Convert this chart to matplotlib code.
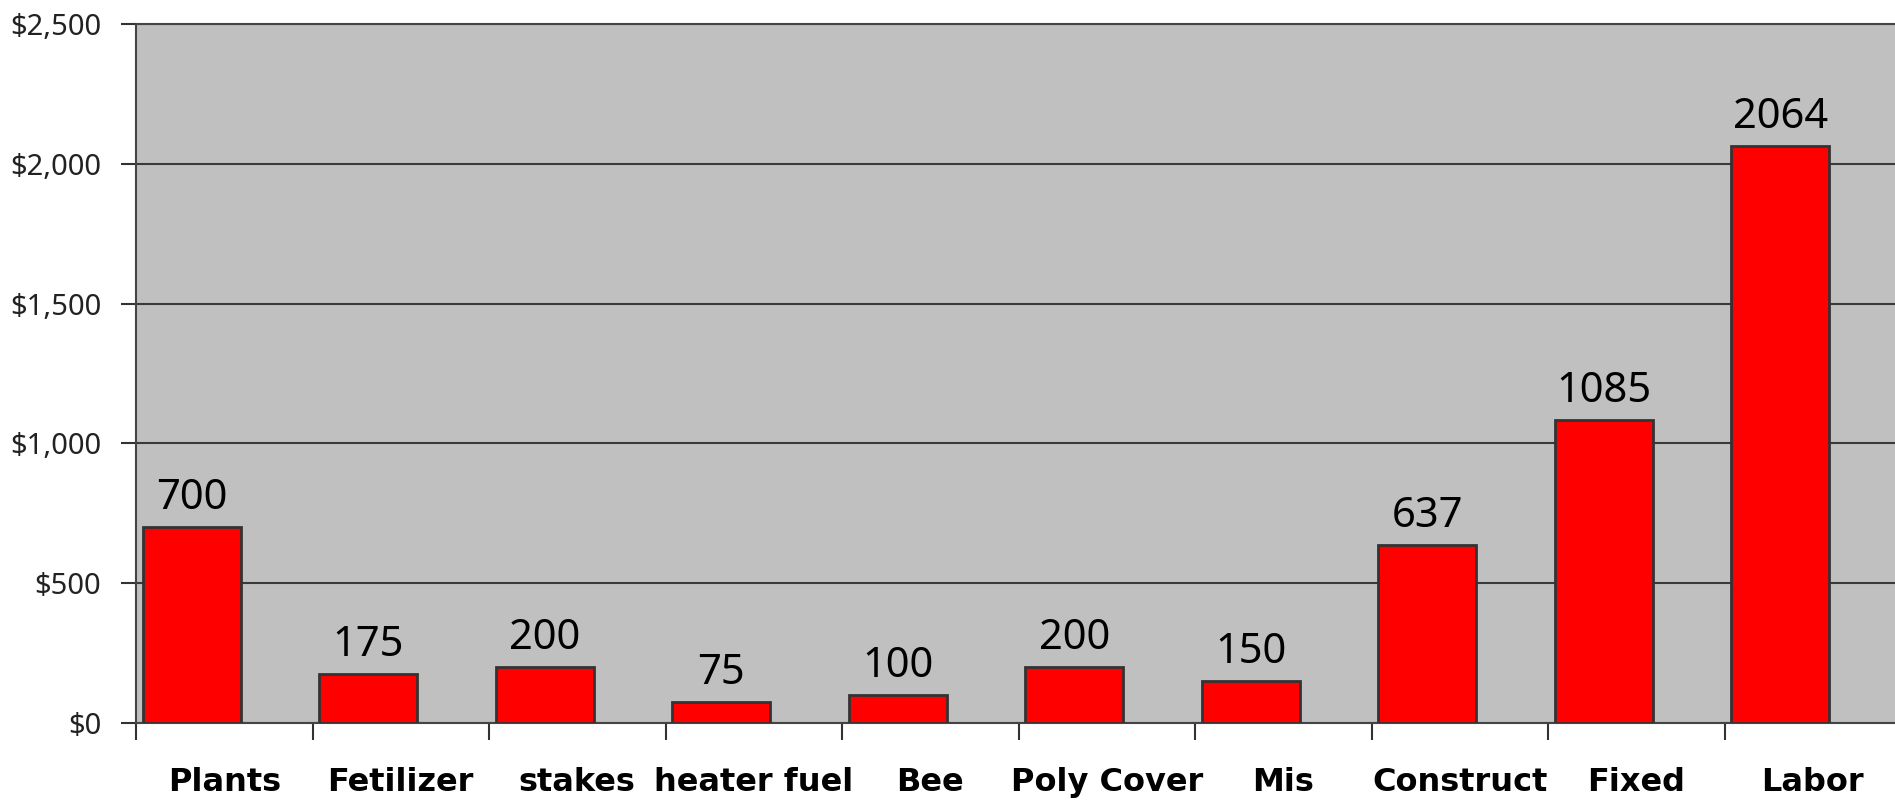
import matplotlib
matplotlib.use("Agg")
import matplotlib.pyplot as plt
from matplotlib.ticker import FuncFormatter, FixedLocator
import numpy as np

categories = ["Plants", "Fetilizer", "stakes", "heater fuel", "Bee",
              "Poly Cover", "Mis", "Construct", "Fixed", "Labor"]
values = [700, 175, 200, 75, 100, 200, 150, 637, 1085, 2064]
y_ticks = [0, 500, 1000, 1500, 2000, 2500]

W, H = 1895, 802
fig = plt.figure(figsize=(W / 100, H / 100), dpi=100)
ax = fig.add_axes([136 / W, 79.3 / H, 1765 / W, 698.4 / H])
ax.set_facecolor("#C0C0C0")

x = np.arange(len(categories))
bar_offset = -0.184
bar_w = 0.555
bars = ax.bar(x + bar_offset, values, width=bar_w, color="#FF0000",
              edgecolor="#333333", linewidth=2, zorder=3)

for xi, v in zip(x, values):
    ax.annotate(f"{v}", (xi + bar_offset, v), xytext=(0, 13),
                textcoords="offset points", ha="center", va="baseline",
                fontsize=30, family="Noto Sans", color="#000000", zorder=4)

ax.set_xlim(-0.5, len(categories) - 0.5)
ax.set_ylim(0, 2500)

ax.yaxis.set_major_locator(FixedLocator(y_ticks))
ax.yaxis.set_major_formatter(FuncFormatter(lambda v, p: f"${int(v):,}"))
ax.grid(axis="y", color="#3a3a3a", linewidth=1.5, zorder=1)
ax.set_axisbelow(True)

# category boundaries as major ticks, labels at centers as minor ticks
ax.set_xticks(np.arange(len(categories) + 1) - 0.5)
ax.set_xticklabels([])
ax.set_xticks(x, minor=True)
ax.set_xticklabels(categories, minor=True, fontsize=23,
                   fontweight="bold", family="DejaVu Sans")
ax.tick_params(axis="x", which="major", length=12, width=1.5,
               color="#333333", direction="out")
ax.tick_params(axis="x", which="minor", length=0, pad=32)
ax.tick_params(axis="y", length=11, width=1.5, color="#333333",
               direction="out", pad=14, labelsize=21,
               labelcolor="#222222")
for lbl in ax.get_yticklabels():
    lbl.set_family("Noto Sans")

for side in ["left", "bottom", "top"]:
    ax.spines[side].set_color("#444444")
    ax.spines[side].set_linewidth(1.5)
ax.spines["right"].set_visible(False)

fig.savefig("out.png", dpi=100)
